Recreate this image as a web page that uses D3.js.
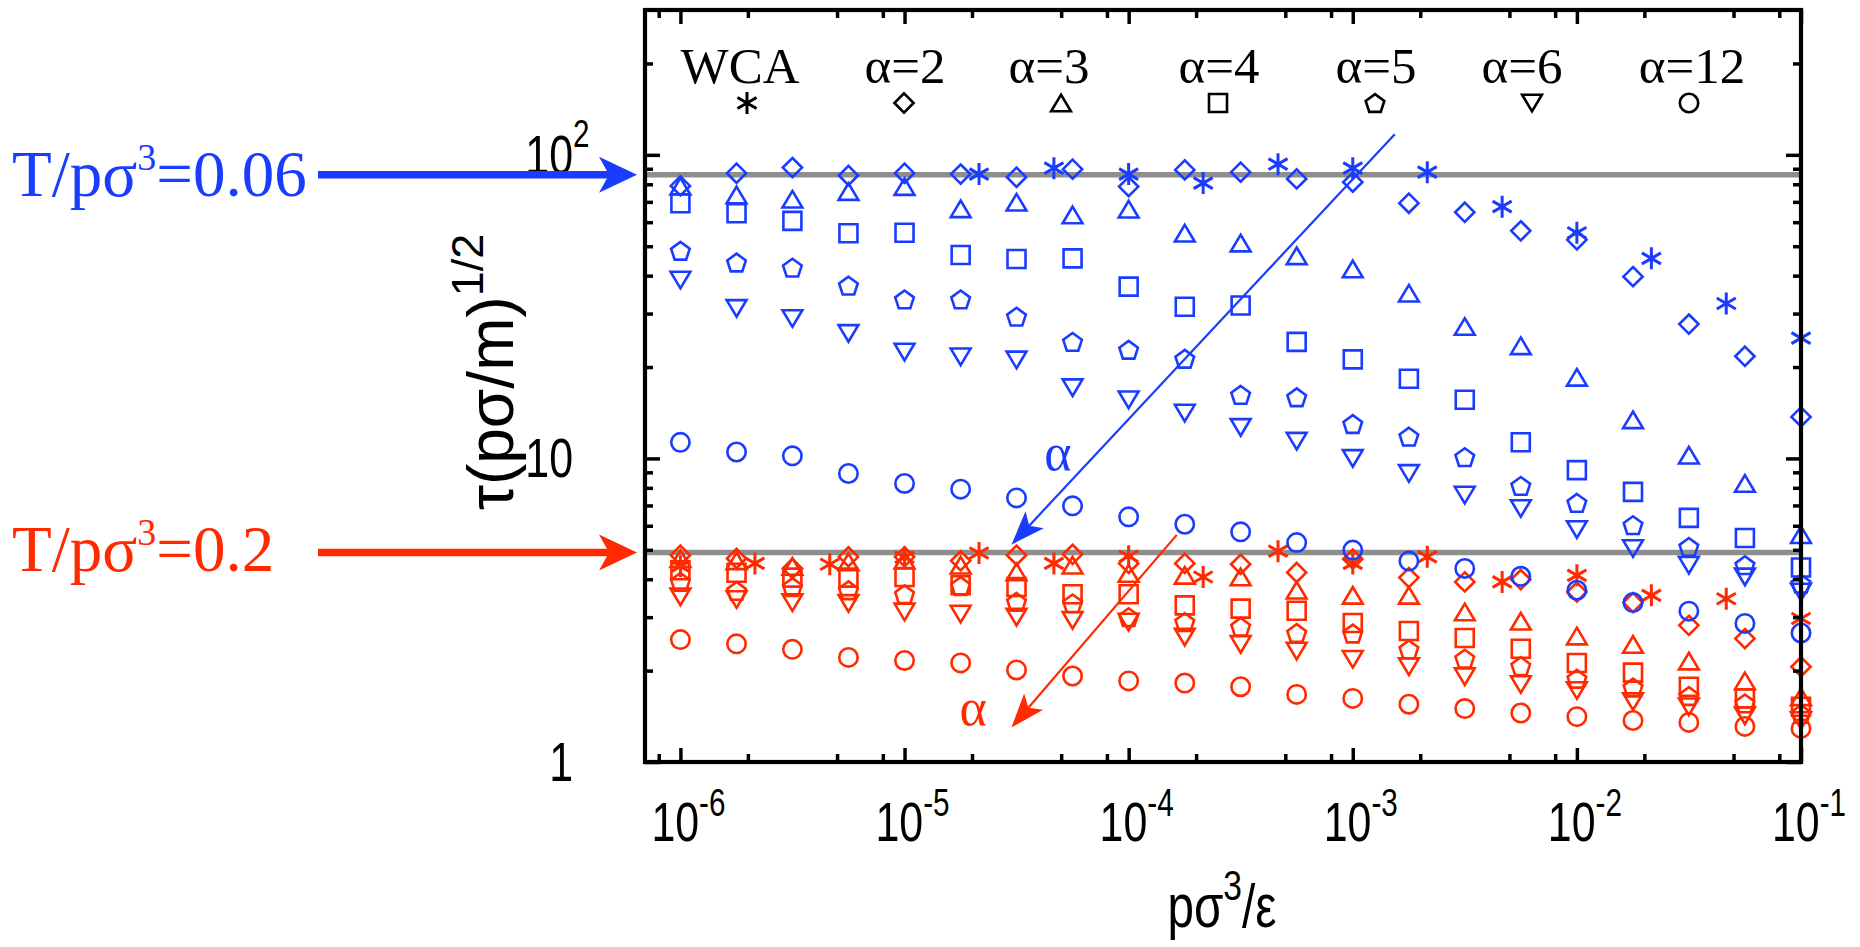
<!DOCTYPE html>
<html>
<head>
<meta charset="utf-8">
<script src="https://cdn.jsdelivr.net/npm/d3@7/dist/d3.min.js"></script>
<style>
  html, body { margin: 0; padding: 0; background: #ffffff; }
  svg { display: block; }
</style>
</head>
<body>
<svg id="chart" width="1860" height="947"></svg>
<script>
// ---------------------------------------------------------------------------
// Data: relaxation time tau (p sigma/m)^1/2 versus reduced pressure p sigma^3/eps
// ---------------------------------------------------------------------------

// pressure grid of the power-law (alpha) systems: four points per decade
const pressureAlpha = [1e-6, 1.78e-6, 3.16e-6, 5.62e-6, 1e-5, 1.78e-5, 3.16e-5, 5.62e-5,
  1e-4, 1.78e-4, 3.16e-4, 5.62e-4, 1e-3, 1.78e-3, 3.16e-3, 5.62e-3,
  1e-2, 1.78e-2, 3.16e-2, 5.62e-2, 1e-1];
// pressure grid of the WCA system: three points per decade
const pressureWCA = [1e-6, 2.15e-6, 4.64e-6, 1e-5, 2.15e-5, 4.64e-5, 1e-4, 2.15e-4,
  4.64e-4, 1e-3, 2.15e-3, 4.64e-3, 1e-2, 2.15e-2, 4.64e-2, 1e-1];

// T/p sigma^3 = 0.06
const tauWCA_T006 = [null, null, null, null, 86.4, 90.4, 86.4, 80.7, 93.2, 90.4, 87.7, 67.5, 55.4, 45.6, 32.4, 24.9];
const tauA2_T006  = [79.0, 87.0, 90.8, 85.5, 87.0, 86.4, 84.4, 89.7, 78.6, 89.2, 87.7, 83.3, 81.3, 69.3, 64.7, 56.2, 52.5, 39.7, 27.7, 21.7, 13.7];
const tauA3_T006  = [78.8, 73.8, 71.4, 75.7, 78.6, 66.4, 69.8, 63.4, 66.2, 55.2, 51.2, 46.5, 42.1, 35.0, 27.2, 23.5, 18.5, 13.4, 10.25, 8.27, 5.61];
const tauA4_T006  = [69.3, 64.2, 60.6, 55.2, 55.4, 46.8, 45.4, 45.6, 36.8, 31.6, 31.9, 24.2, 21.2, 18.3, 15.6, 11.3, 9.15, 7.76, 6.37, 5.47, 4.37];
const tauA5_T006  = [48.3, 44.2, 42.5, 37.1, 33.4, 33.4, 29.3, 24.2, 22.8, 21.3, 16.2, 15.9, 12.98, 11.8, 10.1, 8.12, 7.14, 6.03, 5.11, 4.45, 3.87];
const tauA6_T006  = [38.7, 31.2, 28.9, 25.8, 22.4, 21.6, 21.1, 17.1, 15.6, 14.1, 12.65, 11.4, 10.0, 8.92, 7.57, 6.84, 5.83, 5.05, 4.45, 4.07, 3.63];
const tauA12_T006 = [11.3, 10.5, 10.2, 8.92, 8.27, 7.92, 7.41, 6.98, 6.42, 6.07, 5.73, 5.28, 4.99, 4.59, 4.34, 4.09, 3.68, 3.35, 3.14, 2.86, 2.66];

// T/p sigma^3 = 0.2
const tauWCA_T02 = [4.41, 4.51, 4.48, 4.72, 4.88, 4.51, 4.76, 4.07, 4.95, 4.51, 4.74, 3.92, 4.12, 3.54, 3.45, 2.97];
const tauA2_T02  = [4.80, 4.68, 4.34, 4.74, 4.74, 4.60, 4.80, 4.83, 4.51, 4.51, 4.48, 4.21, 4.66, 4.05, 3.92, 3.99, 3.63, 3.35, 2.82, 2.55, 2.06];
const tauA3_T02  = [4.68, 4.60, 4.41, 4.56, 4.62, 4.45, 4.23, 4.45, 4.18, 4.12, 4.07, 3.68, 3.54, 3.54, 3.12, 2.91, 2.60, 2.44, 2.15, 1.85, 1.64];
const tauA4_T02  = [4.28, 4.20, 4.05, 4.05, 4.07, 3.82, 3.77, 3.57, 3.57, 3.28, 3.20, 3.15, 2.87, 2.70, 2.56, 2.36, 2.12, 1.97, 1.77, 1.62, 1.52];
const tauA5_T02  = [3.92, 3.66, 3.77, 3.68, 3.57, 3.80, 3.37, 3.33, 3.00, 2.89, 2.79, 2.66, 2.65, 2.35, 2.19, 2.07, 1.88, 1.76, 1.65, 1.56, 1.44];
const tauA6_T02  = [3.50, 3.43, 3.35, 3.33, 3.12, 3.07, 3.00, 2.93, 2.89, 2.58, 2.44, 2.32, 2.18, 2.06, 1.91, 1.80, 1.72, 1.58, 1.52, 1.42, 1.37];
const tauA12_T02 = [2.53, 2.45, 2.35, 2.21, 2.16, 2.12, 2.01, 1.92, 1.85, 1.82, 1.77, 1.67, 1.62, 1.55, 1.50, 1.45, 1.41, 1.37, 1.35, 1.31, 1.29];

// plateau levels (grey horizontal lines) for T/p sigma^3 = 0.06 and 0.2
const plateauLevels = [86, 4.9];
const temperatureLabels = [["T/pσ", "3", "=0.06"], ["T/pσ", "3", "=0.2"]];

// alpha arrows: [pressure, tau] of tail and head
const alphaArrowT006 = [[1.54e-3, 117], [3.0e-5, 5.2]];
const alphaArrowT02  = [[1.64e-4, 5.6], [3.0e-5, 1.30]];
const alphaLabelT006 = [4.2e-5, 9.15];
const alphaLabelT02  = [1.76e-5, 1.32];

// legend
const legendLabels = ["WCA", "α=2", "α=3", "α=4", "α=5", "α=6", "α=12"];

// axes
const xDomain = [6.95e-7, 0.1];
const yDomain = [1, 300];
const xTickExponents = ["-6", "-5", "-4", "-3", "-2", "-1"];
const xMajorTicks = [1e-6, 1e-5, 1e-4, 1e-3, 1e-2, 1e-1];
const xMinorTicks = [8e-7, 2e-6, 5e-6, 8e-6, 2e-5, 5e-5, 8e-5, 2e-4, 5e-4, 8e-4,
  2e-3, 5e-3, 8e-3, 2e-2, 5e-2, 8e-2];
const yMajorTicks = [1, 10, 100];
const yTickBase = ["1", "10", "10"];
const yTickSup = ["", "", "2"];
const yMinorTicks = [2, 3, 4, 5, 6, 7, 8, 9, 20, 30, 40, 50, 60, 70, 80, 90, 200];

// ---------------------------------------------------------------------------
// Layout and scales
// ---------------------------------------------------------------------------
const BLUE = "#1a3cff";
const RED = "#ff2a00";
const GREY = "#8e8e8e";
const SERIF = "'Liberation Serif', 'Times New Roman', serif";
const SANS = "'Liberation Sans', Arial, sans-serif";
const NARROW_X = 0.78;   // horizontal squeeze for the condensed axis lettering

const frame = { left: 645, right: 1801, top: 10, bottom: 762 };
const svg = d3.select("#chart");

const x = d3.scaleLog().domain(xDomain).range([frame.left, frame.right]);
const y = d3.scaleLog().domain(yDomain).range([frame.bottom, frame.top]);

// ---------------------------------------------------------------------------
// Open plotting symbols (size argument = radius squared)
// ---------------------------------------------------------------------------
const SQ3 = Math.sqrt(3);
const symAsterisk = { draw(c, s) { const r = Math.sqrt(s), t = r / 2, u = t * SQ3;
  c.moveTo(0, -r); c.lineTo(0, r); c.moveTo(-u, -t); c.lineTo(u, t); c.moveTo(-u, t); c.lineTo(u, -t); } };
const symDiamond = { draw(c, s) { const r = Math.sqrt(s);
  c.moveTo(0, -r); c.lineTo(r, 0); c.lineTo(0, r); c.lineTo(-r, 0); c.closePath(); } };
const symTriUp = { draw(c, s) { const r = Math.sqrt(s), h = r * 1.68;
  c.moveTo(0, -h / 2); c.lineTo(r, h / 2); c.lineTo(-r, h / 2); c.closePath(); } };
const symSquare = { draw(c, s) { const r = Math.sqrt(s);
  c.moveTo(-r, -r); c.lineTo(r, -r); c.lineTo(r, r); c.lineTo(-r, r); c.closePath(); } };
const symPentagon = { draw(c, s) { const r = Math.sqrt(s), dy = r * 0.095;
  for (let i = 0; i < 5; i++) { const a = -Math.PI / 2 + i * 2 * Math.PI / 5;
    const px = r * Math.cos(a), py = r * Math.sin(a) + dy;
    if (i === 0) c.moveTo(px, py); else c.lineTo(px, py); }
  c.closePath(); } };
const symTriDown = { draw(c, s) { const r = Math.sqrt(s), h = r * 1.68;
  c.moveTo(0, h / 2); c.lineTo(r, -h / 2); c.lineTo(-r, -h / 2); c.closePath(); } };
const symCircle = { draw(c, s) { const r = Math.sqrt(s);
  c.moveTo(r, 0); c.arc(0, 0, r, 0, 2 * Math.PI); } };

const shapes = [
  { type: symAsterisk, r: 11.0, sw: 3.0 },
  { type: symDiamond, r: 9.6, sw: 2.6 },
  { type: symTriUp, r: 9.9, sw: 2.6 },
  { type: symSquare, r: 9.0, sw: 2.6 },
  { type: symPentagon, r: 9.8, sw: 2.6 },
  { type: symTriDown, r: 9.9, sw: 2.6 },
  { type: symCircle, r: 9.2, sw: 2.6 }
];

const seriesT006 = [tauWCA_T006, tauA2_T006, tauA3_T006, tauA4_T006, tauA5_T006, tauA6_T006, tauA12_T006];
const seriesT02  = [tauWCA_T02, tauA2_T02, tauA3_T02, tauA4_T02, tauA5_T02, tauA6_T02, tauA12_T02];

// ---------------------------------------------------------------------------
// Grey plateau lines
// ---------------------------------------------------------------------------
svg.append("g").selectAll("line").data(plateauLevels).join("line")
  .attr("x1", frame.left).attr("x2", frame.right)
  .attr("y1", d => y(d)).attr("y2", d => y(d))
  .attr("stroke", GREY).attr("stroke-width", 5.5);

// ---------------------------------------------------------------------------
// Data markers
// ---------------------------------------------------------------------------
function drawSeries(g, values, shape, color, isWCA) {
  const xs = isWCA ? pressureWCA : pressureAlpha;
  const pts = xs.map((p, i) => [p, values[i]]).filter(d => d[1] != null);
  g.append("g").selectAll("path").data(pts).join("path")
    .attr("transform", d => `translate(${x(d[0])},${y(d[1])})`)
    .attr("d", d3.symbol().type(shape.type).size(shape.r * shape.r))
    .attr("fill", "none").attr("stroke", color).attr("stroke-width", shape.sw)
    .attr("stroke-linejoin", "miter");
}
const marks = svg.append("g");
seriesT02.forEach((vals, i) => drawSeries(marks, vals, shapes[i], RED, i === 0));
seriesT006.forEach((vals, i) => drawSeries(marks, vals, shapes[i], BLUE, i === 0));

// ---------------------------------------------------------------------------
// Arrow helper (filled, notched head)
// ---------------------------------------------------------------------------
function arrow(g, x0, y0, x1, y1, color, width, L, w, notch) {
  const dx = x1 - x0, dy = y1 - y0, len = Math.hypot(dx, dy);
  const ux = dx / len, uy = dy / len, nx = -uy, ny = ux;
  const bx = x1 - L * ux, by = y1 - L * uy;
  const mx = x1 - (L - notch) * ux, my = y1 - (L - notch) * uy;
  g.append("line").attr("x1", x0).attr("y1", y0).attr("x2", mx).attr("y2", my)
    .attr("stroke", color).attr("stroke-width", width);
  g.append("path")
    .attr("d", `M${x1},${y1}L${bx + w * nx},${by + w * ny}L${mx},${my}L${bx - w * nx},${by - w * ny}Z`)
    .attr("fill", color);
}

// alpha arrows inside the plot
const ann = svg.append("g");
arrow(ann, x(alphaArrowT006[0][0]), y(alphaArrowT006[0][1]), x(alphaArrowT006[1][0]), y(alphaArrowT006[1][1]), BLUE, 2.2, 34, 12.5, 8);
arrow(ann, x(alphaArrowT02[0][0]), y(alphaArrowT02[0][1]), x(alphaArrowT02[1][0]), y(alphaArrowT02[1][1]), RED, 2.2, 34, 12.5, 8);
ann.append("text").attr("x", x(alphaLabelT006[0])).attr("y", y(alphaLabelT006[1]))
  .attr("font-family", SERIF).attr("font-size", 52).attr("fill", BLUE).text("α");
ann.append("text").attr("x", x(alphaLabelT02[0])).attr("y", y(alphaLabelT02[1]))
  .attr("font-family", SERIF).attr("font-size", 52).attr("fill", RED).text("α");

// ---------------------------------------------------------------------------
// Frame and ticks (mirrored on all four sides, pointing inward)
// ---------------------------------------------------------------------------
function tickAxis(axisGen, values, size, tx, ty) {
  const g = svg.append("g").attr("transform", `translate(${tx},${ty})`)
    .call(axisGen.tickValues(values).tickSize(-size).tickFormat(""));
  g.select(".domain").remove();
  g.selectAll(".tick line").attr("stroke", "#000").attr("stroke-width", 3.5);
}
tickAxis(d3.axisBottom(x), xMajorTicks, 14, 0, frame.bottom);
tickAxis(d3.axisBottom(x), xMinorTicks, 8, 0, frame.bottom);
tickAxis(d3.axisTop(x), xMajorTicks, 14, 0, frame.top);
tickAxis(d3.axisTop(x), xMinorTicks, 8, 0, frame.top);
tickAxis(d3.axisLeft(y), yMajorTicks, 15, frame.left, 0);
tickAxis(d3.axisLeft(y), yMinorTicks, 8, frame.left, 0);
tickAxis(d3.axisRight(y), yMajorTicks, 15, frame.right, 0);
tickAxis(d3.axisRight(y), yMinorTicks, 8, frame.right, 0);

svg.append("rect")
  .attr("x", frame.left).attr("y", frame.top)
  .attr("width", frame.right - frame.left).attr("height", frame.bottom - frame.top)
  .attr("fill", "none").attr("stroke", "#000").attr("stroke-width", 4.2);

// ---------------------------------------------------------------------------
// Tick labels (condensed sans lettering)
// ---------------------------------------------------------------------------
function squeezed(g, px, py, anchor, size) {
  return g.append("text").attr("transform", `translate(${px},${py}) scale(${NARROW_X},1)`)
    .attr("text-anchor", anchor).attr("font-family", SANS).attr("font-size", size).attr("fill", "#000");
}
const xLab = svg.append("g");
xMajorTicks.forEach((v, i) => {
  const t = squeezed(xLab, x(v) + 8, 841, "middle", 55);
  t.append("tspan").text("10");
  t.append("tspan").attr("dy", -25).attr("font-size", 38).text(xTickExponents[i]);
});

const yLab = svg.append("g");
yMajorTicks.forEach((v, i) => {
  squeezed(yLab, 573, y(v) + 19, "end", 55).text(yTickBase[i]);
  if (yTickSup[i]) squeezed(yLab, 573, y(v) - 8, "start", 38).text(yTickSup[i]);
});

// axis titles
const xt = squeezed(svg, 1222, 927, "middle", 61);
xt.append("tspan").text("pσ");
xt.append("tspan").attr("dy", -27).attr("font-size", 43).text("3");
xt.append("tspan").attr("dy", 27).text("/ε");

const yt = svg.append("text").attr("transform", "translate(513,372) rotate(-90)")
  .attr("text-anchor", "middle").attr("font-family", SANS).attr("font-size", 64).attr("fill", "#000");
yt.append("tspan").text("τ(pσ/m)");
yt.append("tspan").attr("dy", -30).attr("font-size", 45).text("1/2");

// ---------------------------------------------------------------------------
// Legend across the top of the frame
// ---------------------------------------------------------------------------
const legendTextX = [740, 905, 1049, 1219, 1376, 1522, 1692];
const legendMarkX = legendLabels.map((d, i) => 747 + i * 157);
const leg = svg.append("g");
legendLabels.forEach((lab, i) => {
  leg.append("text").attr("x", legendTextX[i]).attr("y", 83).attr("text-anchor", "middle")
    .attr("font-family", SERIF).attr("font-size", 51).attr("fill", "#000").text(lab);
  leg.append("path").attr("transform", `translate(${legendMarkX[i]},103)`)
    .attr("d", d3.symbol().type(shapes[i].type).size(shapes[i].r * shapes[i].r))
    .attr("fill", "none").attr("stroke", "#000").attr("stroke-width", shapes[i].sw);
});

// ---------------------------------------------------------------------------
// Temperature labels with arrows pointing at the plateau lines
// ---------------------------------------------------------------------------
const tempColors = [BLUE, RED];
const tempBaselineOffset = [21, 19];
plateauLevels.forEach((lvl, i) => {
  const yy = y(lvl);
  const t = svg.append("text").attr("x", 12).attr("y", yy + tempBaselineOffset[i])
    .attr("font-family", SERIF).attr("font-size", 65).attr("fill", tempColors[i]);
  t.append("tspan").text(temperatureLabels[i][0]);
  t.append("tspan").attr("dy", -26).attr("font-size", 38).text(temperatureLabels[i][1]);
  t.append("tspan").attr("dy", 26).text(temperatureLabels[i][2]);
  arrow(svg, 318, yy, 637, yy, tempColors[i], 7.5, 38, 18, 10);
});
</script>
</body>
</html>
